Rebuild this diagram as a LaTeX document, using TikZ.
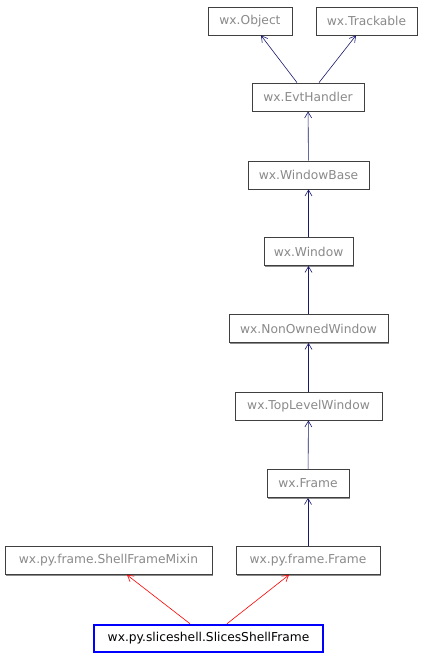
\documentclass[tikz,border=0pt]{standalone}
\usepackage{fontspec}
\setmainfont{DejaVu Sans}
\usetikzlibrary{arrows.meta,shadows}
\definecolor{edgeblue}{HTML}{191970}
\definecolor{txtgray}{HTML}{8A8A8A}
\tikzset{
  cls/.style={draw=black!75, line width=0.8bp, fill=white, inner sep=0pt, minimum height=28bp,
    text=txtgray, font=\fontsize{12.3}{14}\selectfont,
    drop shadow={shadow xshift=1.2bp, shadow yshift=-1.2bp, fill=black!45, opacity=1}},
  mainc/.style={draw=blue, line width=2.6bp, fill=white, inner sep=0pt, minimum height=27bp,
    text=black, font=\fontsize{12.3}{14}\selectfont},
  inh/.style={draw=edgeblue, line width=0.6bp, -{Straight Barb[length=6bp,width=7bp]}},
  inhr/.style={draw=red, line width=0.6bp, -{Straight Barb[length=6bp,width=7bp]}},
}
\begin{document}
\begin{tikzpicture}[x=1bp,y=-1bp]
\useasboundingbox (0,0) rectangle (424,659);
\node[cls, minimum width=84bp] (obj) at (250,21) {wx.Object};
\node[cls, minimum width=101bp] (trk) at (366.5,21) {wx.Trackable};
\node[cls, minimum width=112bp] (evt) at (308,97) {wx.EvtHandler};
\node[cls, minimum width=121bp] (wb) at (308.5,175) {wx.WindowBase};
\node[cls, minimum width=89bp] (win) at (308.5,251.5) {wx.Window};
\node[cls, minimum width=159bp] (now) at (308.5,328.5) {wx.NonOwnedWindow};
\node[cls, minimum width=147bp] (tlw) at (308.5,406) {wx.TopLevelWindow};
\node[cls, minimum width=82bp] (frm) at (308,483.5) {wx.Frame};
\node[cls, minimum width=207bp] (mix) at (108.5,560.5) {wx.py.frame.ShellFrameMixin};
\node[cls, minimum width=144bp] (pyf) at (308,560.5) {wx.py.frame.Frame};
\node[mainc, minimum width=229bp] (ssf) at (208.5,638.5) {wx.py.sliceshell.SlicesShellFrame};
\draw[inh] (evt.north -| 297,0) -- (obj.south -| 261,0);
\draw[inh] (evt.north -| 319,0) -- (trk.south -| 356,0);
\draw[inh] (wb) -- (evt);
\draw[inh] (win) -- (wb);
\draw[inh] (now) -- (win);
\draw[inh] (tlw) -- (now);
\draw[inh] (frm) -- (tlw);
\draw[inh] (pyf) -- (frm);
\draw[inhr] (ssf.north -| 190,0) -- (mix.south -| 127,0);
\draw[inhr] (ssf.north -| 227,0) -- (pyf.south -| 289,0);
\end{tikzpicture}
\end{document}
